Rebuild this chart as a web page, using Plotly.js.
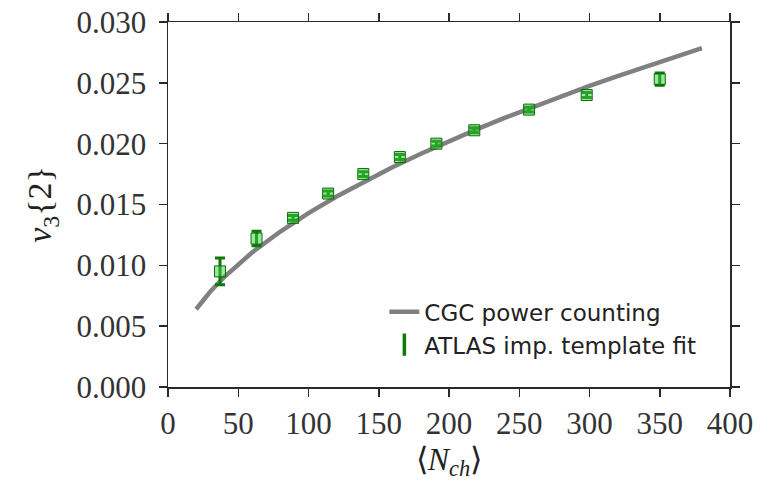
<!DOCTYPE html>
<html>
<head>
<meta charset="utf-8">
<script src="https://cdn.plot.ly/plotly-3.0.1.min.js"></script>
<style>html,body{margin:0;padding:0;background:#fff;}#chart{width:780px;height:484px;}</style>
</head>
<body>
<div id="chart"></div>
<script>
// CGC power counting curve
const curveX = [20, 30, 40, 50, 60, 80, 100, 120, 140, 160, 180, 200, 220, 240, 260, 280, 300, 320, 340, 360, 380];
const curveY = [0.00639, 0.00783, 0.00904, 0.01010, 0.01107, 0.01278, 0.01429, 0.01565, 0.01691, 0.01808, 0.01917, 0.02021, 0.02120, 0.02214, 0.02304, 0.02391, 0.02475, 0.02556, 0.02635, 0.02711, 0.02786];
// ATLAS improved template fit points
const nch = [37, 63, 89, 114, 139, 165, 191, 218, 257, 298, 350];
const v3 = [0.0095, 0.0122, 0.0139, 0.0159, 0.0175, 0.0189, 0.0200, 0.0211, 0.0228, 0.0240, 0.0253];
const v3err = [0.0011, 0.0006, 0.0002, 0.0002, 0.0002, 0.0002, 0.0002, 0.0002, 0.0002, 0.0002, 0.0005];
const xTicks = [0, 50, 100, 150, 200, 250, 300, 350, 400];
const yTicks = [0, 0.005, 0.010, 0.015, 0.020, 0.025, 0.030];
const names = ['CGC power counting', 'ATLAS imp. template fit'];

const serif = 'Liberation Serif, Times New Roman, serif';
const axisCommon = {
  showgrid: false, zeroline: false, showline: true, mirror: 'ticks',
  linecolor: '#2a2a2a', linewidth: 1.5, ticks: 'outside', ticklen: 8,
  tickwidth: 1.5, tickcolor: '#2a2a2a',
  tickfont: {family: serif, size: 31, color: '#333'}
};

const traces = [
  {x: curveX, y: curveY, mode: 'lines', name: names[0],
   line: {color: '#808080', width: 4.5}, hoverinfo: 'skip'},
  {x: nch, y: v3, mode: 'markers', name: names[1], showlegend: false,
   marker: {symbol: 'square', size: 11, color: 'rgba(60,205,60,0.5)',
            line: {color: '#0a6a0a', width: 1}},
   error_y: {type: 'data', array: v3err, visible: true, color: '#0a7a0a',
             thickness: 3, width: 5}},
  {x: [null], y: [null], mode: 'markers', name: names[1], showlegend: true,
   marker: {symbol: 'line-ns-open', size: 22, color: '#0a7a0a',
            line: {color: '#0a7a0a', width: 3.5}}}
];

const layout = {
  width: 780, height: 484,
  margin: {l: 168, r: 50, t: 22, b: 97, pad: 0},
  paper_bgcolor: '#fff', plot_bgcolor: '#fff',
  showlegend: true,
  legend: {x: 0.385, y: 0.265, xanchor: 'left', yanchor: 'top',
           bgcolor: 'rgba(0,0,0,0)', borderwidth: 0,
           font: {family: 'DejaVu Sans, sans-serif', size: 23, color: '#222'},
           tracegroupgap: 0},
  xaxis: Object.assign({}, axisCommon, {
    range: [0, 400], tickvals: xTicks, ticktext: xTicks.map(String),
    ticklabelstandoff: 0,
    title: {text: '\u27E8<i>N</i><sub><i>ch</i></sub>\u27E9', standoff: 2,
            font: {family: serif, size: 32, color: '#222'}}
  }),
  yaxis: Object.assign({}, axisCommon, {
    range: [0, 0.030], tickvals: yTicks, ticktext: yTicks.map(v => v.toFixed(3)),
    ticklabelstandoff: 6,
    title: {text: '<i>v</i><sub>3</sub>{2}', standoff: 14,
            font: {family: serif, size: 34, color: '#222'}}
  })
};

Plotly.newPlot('chart', traces, layout, {displayModeBar: false, staticPlot: true});
</script>
</body>
</html>
